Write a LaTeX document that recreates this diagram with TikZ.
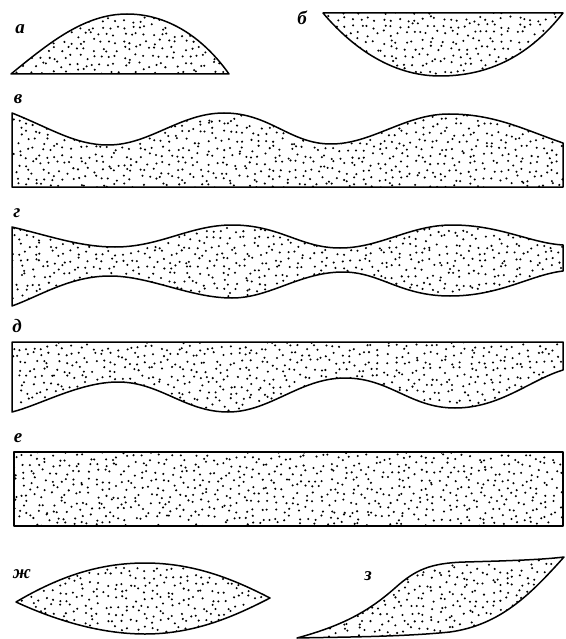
\documentclass[tikz,border=0pt]{standalone}
\usepackage{fontspec}
\setmainfont{Liberation Serif}

% random stipple over a box: x, y (top left), columns, rows
\newcommand{\speckle}[4]{%
  \foreach \i in {0,...,#3}{%
    \foreach \j in {0,...,#4}{%
      \fill ({#1+7.5*\i+3.2*rand},{#2+7.5*\j+3.2*rand}) circle (1.15pt);
    }}}

\tikzset{
  outline/.style={black, line width=1.5pt, line join=round},
  lbl/.style={inner sep=0pt, font=\fontsize{19}{19}\selectfont\bfseries\itshape}
}

\begin{document}
\begin{tikzpicture}[x=1pt,y=-1pt]
\useasboundingbox (0,0) rectangle (565,639);
\pgfmathsetseed{1961}
% labels
\node [lbl] (la) at (20,29) {а};
\node [lbl] (lb) at (302,18) {б};
\node [lbl] (lv) at (18,99) {в};
\node [lbl] (lg) at (17,213) {г};
\node [lbl] (ld) at (17,326) {д};
\node [lbl] (le) at (18,438) {е};
\node [lbl] (lzh) at (22,574) {ж};
\node [lbl] (lz) at (368,576) {з};
% a
\draw [outline, path picture={\speckle{11}{12}{30}{9}}]
  (11,74) .. controls (50,42) and (85,14) .. (127,14)
  .. controls (170,14) and (205,40) .. (229,74) -- cycle;
% b
\draw [outline, path picture={\speckle{323}{11}{33}{9}}]
  (323,13) -- (563,13)
  .. controls (530,55) and (490,76) .. (440,76)
  .. controls (390,76) and (350,45) .. (323,13) -- cycle;
% v
\draw [outline, path picture={\speckle{12}{111}{74}{11}}]
  (12,187) -- (12,113)
  .. controls (50,128) and (75,145) .. (108,145)
  .. controls (150,145) and (180,113) .. (224,113)
  .. controls (270,113) and (290,144) .. (331,144)
  .. controls (372,144) and (405,114) .. (449,114)
  .. controls (495,114) and (525,130) .. (563,143)
  -- (563,187) -- cycle;
% g
\draw [outline, path picture={\speckle{12}{223}{74}{12}}]
  (12,227) .. controls (50,236) and (80,247) .. (115,247)
  .. controls (160,247) and (190,225) .. (232,225)
  .. controls (280,225) and (300,248) .. (340,248)
  .. controls (380,248) and (410,225) .. (452,225)
  .. controls (500,225) and (530,243) .. (563,245)
  -- (563,271)
  .. controls (530,275) and (500,296) .. (450,296)
  .. controls (400,296) and (380,272) .. (343,272)
  .. controls (300,272) and (270,298) .. (232,298)
  .. controls (190,298) and (150,276) .. (110,276)
  .. controls (70,276) and (40,296) .. (12,306) -- cycle;
% d
\draw [outline, path picture={\speckle{12}{340}{74}{10}}]
  (12,342) -- (563,342) -- (563,370)
  .. controls (530,380) and (500,408) .. (455,408)
  .. controls (410,408) and (390,378) .. (345,378)
  .. controls (300,378) and (270,412) .. (228,412)
  .. controls (185,412) and (160,382) .. (118,382)
  .. controls (80,382) and (40,405) .. (12,412) -- cycle;
% e
\draw [outline, path picture={\speckle{14}{450}{74}{11}}]
  (14,452) rectangle (563,526);
% zh
\draw [outline, path picture={\speckle{16}{561}{34}{10}}]
  (16,602) .. controls (60,576) and (100,563) .. (145,563)
  .. controls (195,563) and (235,580) .. (270,598)
  .. controls (235,616) and (195,634) .. (145,634)
  .. controls (100,634) and (55,620) .. (16,602) -- cycle;
% z
\draw [outline, path picture={\speckle{297}{555}{36}{11}}]
  (297,638) .. controls (345,625) and (370,610) .. (395,588)
  .. controls (415,570) and (430,563) .. (465,562)
  .. controls (500,561) and (540,560) .. (564,557)
  .. controls (530,595) and (500,625) .. (450,632)
  .. controls (400,637) and (340,637) .. (297,638) -- cycle;
\end{tikzpicture}
\end{document}
